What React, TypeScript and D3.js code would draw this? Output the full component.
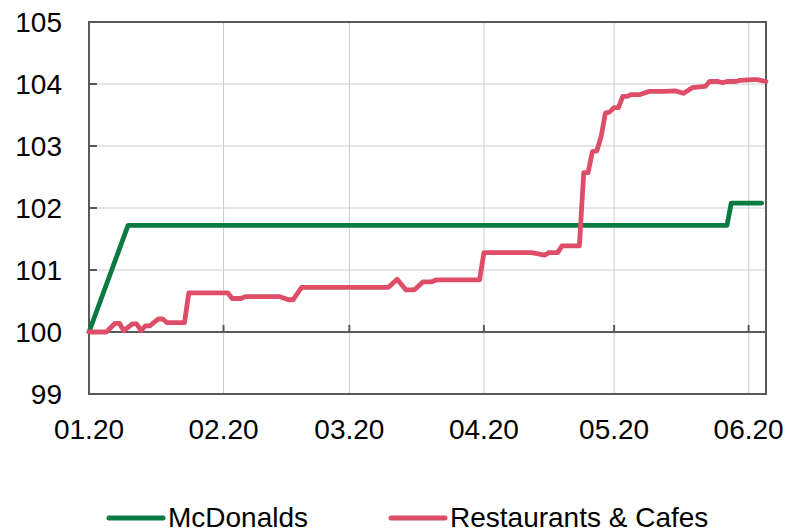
import React from "react";
import * as d3 from "d3";

// McDonalds price index (Jan 2020 = 100)
const mcdDates = ["2020-01-01", "2020-01-10", "2020-05-27", "2020-05-28", "2020-06-04"];
const mcdValues = [100.0, 101.72, 101.72, 102.08, 102.08];

// Restaurants & Cafes price index
const restDates = [
  "2020-01-01", "2020-01-05", "2020-01-07", "2020-01-08", "2020-01-09", "2020-01-11",
  "2020-01-12", "2020-01-13", "2020-01-14", "2020-01-15", "2020-01-17", "2020-01-18",
  "2020-01-19", "2020-01-23", "2020-01-24", "2020-02-02", "2020-02-03", "2020-02-05",
  "2020-02-06", "2020-02-14", "2020-02-16", "2020-02-17", "2020-02-19", "2020-03-10",
  "2020-03-12", "2020-03-14", "2020-03-16", "2020-03-18", "2020-03-20", "2020-03-21",
  "2020-03-31", "2020-04-01", "2020-04-12", "2020-04-15", "2020-04-16", "2020-04-18",
  "2020-04-19", "2020-04-23", "2020-04-24", "2020-04-25", "2020-04-26", "2020-04-27",
  "2020-04-28", "2020-04-29", "2020-04-30", "2020-05-01", "2020-05-02", "2020-05-03",
  "2020-05-04", "2020-05-05", "2020-05-07", "2020-05-09", "2020-05-13", "2020-05-15",
  "2020-05-17", "2020-05-19", "2020-05-22", "2020-05-23", "2020-05-25", "2020-05-26",
  "2020-05-27", "2020-05-29", "2020-05-30", "2020-06-02", "2020-06-03", "2020-06-05",
];
const restValues = [
  100.0, 100.0, 100.14, 100.14, 100.02, 100.13,
  100.13, 100.02, 100.1, 100.1, 100.21, 100.21,
  100.15, 100.15, 100.63, 100.63, 100.54, 100.54,
  100.57, 100.57, 100.52, 100.52, 100.72, 100.72,
  100.85, 100.68, 100.68, 100.81, 100.81, 100.84,
  100.84, 101.28, 101.28, 101.24, 101.28, 101.28,
  101.39, 101.39, 102.57, 102.57, 102.91, 102.92,
  103.15, 103.53, 103.55, 103.62, 103.62, 103.8,
  103.8, 103.83, 103.83, 103.88, 103.88, 103.89,
  103.85, 103.94, 103.96, 104.04, 104.04, 104.02,
  104.04, 104.04, 104.06, 104.07, 104.07, 104.04,
];

const monthTicks = ["2020-01-01", "2020-02-01", "2020-03-01", "2020-04-01", "2020-05-01", "2020-06-01"];
const monthLabels = ["01.20", "02.20", "03.20", "04.20", "05.20", "06.20"];
const yTicks = [99, 100, 101, 102, 103, 104, 105];

const seriesNames = ["McDonalds", "Restaurants & Cafes"];
const seriesColors = ["#0b7b41", "#de4e69"];

const parse = d3.timeParse("%Y-%m-%d");

export default function App() {
  const W = 790;
  const H = 532;
  const m = { left: 89, right: 766, top: 22, bottom: 394 };

  const x = d3
    .scaleTime()
    .domain([parse("2020-01-01")!, parse("2020-06-05")!])
    .range([m.left, m.right]);
  const y = d3.scaleLinear().domain([99, 105]).range([m.bottom, m.top]);

  const line = d3
    .line<{ d: Date; v: number }>()
    .x((p) => x(p.d))
    .y((p) => y(p.v));

  const mcd = mcdDates.map((d, i) => ({ d: parse(d)!, v: mcdValues[i] }));
  const rest = restDates.map((d, i) => ({ d: parse(d)!, v: restValues[i] }));

  const font = "'Liberation Sans', Arial, sans-serif";
  const border = "#595959";
  const grid = "#c9cdd1";

  return (
    <svg
      width={W}
      height={H}
      style={{ position: "absolute", left: 0, top: 0, background: "#fff" }}
      fontFamily={font}
    >
      {/* gridlines */}
      {yTicks.slice(1, -1).map((t) => (
        <line key={"gy" + t} x1={m.left} x2={m.right} y1={y(t)} y2={y(t)} stroke={grid} strokeWidth={1} />
      ))}
      {monthTicks.slice(1).map((t) => (
        <line key={"gx" + t} x1={x(parse(t)!)} x2={x(parse(t)!)} y1={m.top} y2={m.bottom} stroke={grid} strokeWidth={1} />
      ))}

      {/* y tick marks (inside) */}
      {yTicks.map((t) => (
        <line key={"ty" + t} x1={m.left} x2={m.left + 8} y1={y(t)} y2={y(t)} stroke={border} strokeWidth={2} />
      ))}
      {/* baseline at 100 with month ticks */}
      <line x1={m.left} x2={m.right} y1={y(100)} y2={y(100)} stroke={border} strokeWidth={2} />
      {monthTicks.map((t) => (
        <line key={"tx" + t} x1={x(parse(t)!)} x2={x(parse(t)!)} y1={y(100)} y2={y(100) - 7} stroke={border} strokeWidth={2} />
      ))}

      {/* frame */}
      <rect x={m.left} y={m.top} width={m.right - m.left} height={m.bottom - m.top} fill="none" stroke={border} strokeWidth={2} />

      {/* series */}
      <path d={line(mcd) ?? ""} fill="none" stroke={seriesColors[0]} strokeWidth={4.8} strokeLinejoin="round" strokeLinecap="round" />
      <path d={line(rest) ?? ""} fill="none" stroke={seriesColors[1]} strokeWidth={4.8} strokeLinejoin="round" strokeLinecap="round" />

      {/* y labels */}
      {yTicks.map((t) => (
        <text key={"ly" + t} x={62} y={y(t) + 10} fontSize={28} textAnchor="end" fill="#000">
          {t}
        </text>
      ))}
      {/* x labels */}
      {monthTicks.map((t, i) => (
        <text key={"lx" + t} x={x(parse(t)!)} y={439} fontSize={28} textAnchor="middle" fill="#000">
          {monthLabels[i]}
        </text>
      ))}

      {/* legend */}
      {seriesNames.map((name, i) => {
        const lx = i === 0 ? 109 : 391;
        return (
          <g key={name}>
            <line x1={lx} x2={lx + 54} y1={518} y2={518} stroke={seriesColors[i]} strokeWidth={5} strokeLinecap="round" />
            <text x={lx + 59} y={527} fontSize={28} fill="#000">
              {name}
            </text>
          </g>
        );
      })}
    </svg>
  );
}
